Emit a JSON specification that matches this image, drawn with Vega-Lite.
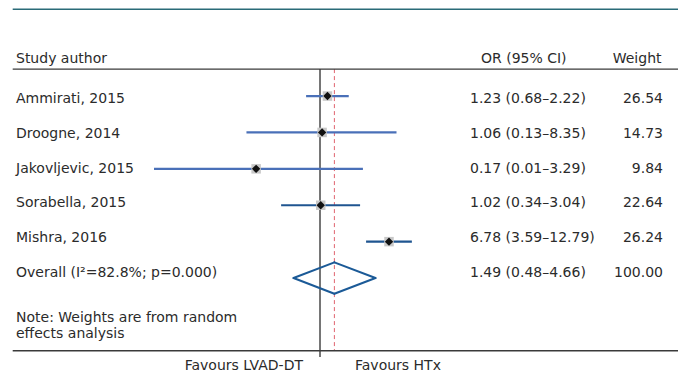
{
  "$schema": "https://vega.github.io/schema/vega-lite/v6.json",
  "width": 684,
  "height": 373,
  "autosize": {"type": "fit", "contains": "padding"},
  "padding": 0,
  "background": "#ffffff",
  "config": {
    "view": {"stroke": null},
    "text": {"font": "DejaVu Sans", "fontSize": 14, "color": "#2b2b2b", "baseline": "alphabetic"}
  },
  "datasets": {
    "rows": [
      {"kind": "study", "row": 1, "study": "Ammirati, 2015", "or": 1.23, "lo": 0.68, "hi": 2.22, "ci": "1.23 (0.68–2.22)", "weight": "26.54"},
      {"kind": "study", "row": 2, "study": "Droogne, 2014", "or": 1.06, "lo": 0.13, "hi": 8.35, "ci": "1.06 (0.13–8.35)", "weight": "14.73"},
      {"kind": "study", "row": 3, "study": "Jakovljevic, 2015", "or": 0.17, "lo": 0.01, "hi": 3.29, "ci": "0.17 (0.01–3.29)", "weight": "9.84"},
      {"kind": "study", "row": 4, "study": "Sorabella, 2015", "or": 1.02, "lo": 0.34, "hi": 3.04, "ci": "1.02 (0.34–3.04)", "weight": "22.64"},
      {"kind": "study", "row": 5, "study": "Mishra, 2016", "or": 6.78, "lo": 3.59, "hi": 12.79, "ci": "6.78 (3.59–12.79)", "weight": "26.24"},
      {"kind": "overall", "row": 6, "study": "Overall (I²=82.8%; p=0.000)", "or": 1.49, "lo": 0.48, "hi": 4.66, "ci": "1.49 (0.48–4.66)", "weight": "100.00"}
    ],
    "one": [{}]
  },
  "layer": [
    {
      "layer": [
        {
          "data": {"name": "one"},
          "mark": {"type": "rule", "color": "#1a1a1a", "strokeWidth": 1.2},
          "encoding": {
            "x": {"datum": 1, "type": "quantitative", "scale": {"type": "log", "domain": [0.00013948, 24297], "nice": false}, "axis": null},
            "y": {"datum": 0.26, "type": "quantitative", "scale": {"domain": [-1.638, 8.581], "reverse": true, "nice": false, "zero": false}, "axis": null},
            "y2": {"datum": 8.17}
          }
        },
        {
          "data": {"name": "rows"},
          "transform": [{"filter": "datum.kind === 'overall'"}],
          "mark": {"type": "rule", "color": "#e0646f", "strokeWidth": 1, "strokeDash": [4, 3]},
          "encoding": {
            "x": {"field": "or", "type": "quantitative", "scale": {"type": "log", "domain": [0.00013948, 24297], "nice": false}, "axis": null},
            "y": {"datum": 0.26, "type": "quantitative", "scale": {"domain": [-1.638, 8.581], "reverse": true, "nice": false, "zero": false}, "axis": null},
            "y2": {"datum": 8.0}
          }
        },
        {
          "data": {"name": "rows"},
          "transform": [{"filter": "datum.kind === 'study'"}],
          "mark": {"type": "rule", "strokeWidth": 2.2},
          "encoding": {
            "x": {"field": "lo", "type": "quantitative", "scale": {"type": "log", "domain": [0.00013948, 24297], "nice": false}, "axis": null},
            "x2": {"field": "hi"},
            "y": {"field": "row", "type": "quantitative", "scale": {"domain": [-1.638, 8.581], "reverse": true, "nice": false, "zero": false}, "axis": null},
            "color": {"field": "study", "type": "nominal", "legend": null,
              "scale": {"domain": ["Ammirati, 2015", "Droogne, 2014", "Jakovljevic, 2015", "Sorabella, 2015", "Mishra, 2016"],
                        "range": ["#4a70b8", "#4a70b8", "#4a70b8", "#1f5590", "#1f5590"]}}
          }
        },
        {
          "data": {"name": "rows"},
          "transform": [{"filter": "datum.kind === 'study'"}],
          "mark": {"type": "point", "shape": "square", "filled": true, "color": "#c8c8c8", "opacity": 1, "size": 90},
          "encoding": {
            "x": {"field": "or", "type": "quantitative", "scale": {"type": "log", "domain": [0.00013948, 24297], "nice": false}, "axis": null},
            "y": {"field": "row", "type": "quantitative", "scale": {"domain": [-1.638, 8.581], "reverse": true, "nice": false, "zero": false}, "axis": null}
          }
        },
        {
          "data": {"name": "rows"},
          "transform": [{"filter": "datum.kind === 'study'"}],
          "mark": {"type": "point", "shape": "diamond", "filled": true, "color": "#111111", "opacity": 1, "size": 70},
          "encoding": {
            "x": {"field": "or", "type": "quantitative", "scale": {"type": "log", "domain": [0.00013948, 24297], "nice": false}, "axis": null},
            "y": {"field": "row", "type": "quantitative", "scale": {"domain": [-1.638, 8.581], "reverse": true, "nice": false, "zero": false}, "axis": null}
          }
        },
        {
          "data": {"name": "rows"},
          "transform": [{"filter": "datum.kind === 'overall'"}],
          "mark": {"type": "rule", "color": "#1b5a97", "strokeWidth": 2, "strokeCap": "round", "y2Offset": -15.7},
          "encoding": {
            "x": {"field": "lo", "type": "quantitative", "scale": {"type": "log", "domain": [0.00013948, 24297], "nice": false}, "axis": null},
            "x2": {"field": "or"},
            "y": {"field": "row", "type": "quantitative", "scale": {"domain": [-1.638, 8.581], "reverse": true, "nice": false, "zero": false}, "axis": null},
            "y2": {"field": "row"}
          }
        },
        {
          "data": {"name": "rows"},
          "transform": [{"filter": "datum.kind === 'overall'"}],
          "mark": {"type": "rule", "color": "#1b5a97", "strokeWidth": 2, "strokeCap": "round", "y2Offset": 15.7},
          "encoding": {
            "x": {"field": "lo", "type": "quantitative", "scale": {"type": "log", "domain": [0.00013948, 24297], "nice": false}, "axis": null},
            "x2": {"field": "or"},
            "y": {"field": "row", "type": "quantitative", "scale": {"domain": [-1.638, 8.581], "reverse": true, "nice": false, "zero": false}, "axis": null},
            "y2": {"field": "row"}
          }
        },
        {
          "data": {"name": "rows"},
          "transform": [{"filter": "datum.kind === 'overall'"}],
          "mark": {"type": "rule", "color": "#1b5a97", "strokeWidth": 2, "strokeCap": "round", "yOffset": -15.7},
          "encoding": {
            "x": {"field": "or", "type": "quantitative", "scale": {"type": "log", "domain": [0.00013948, 24297], "nice": false}, "axis": null},
            "x2": {"field": "hi"},
            "y": {"field": "row", "type": "quantitative", "scale": {"domain": [-1.638, 8.581], "reverse": true, "nice": false, "zero": false}, "axis": null},
            "y2": {"field": "row"}
          }
        },
        {
          "data": {"name": "rows"},
          "transform": [{"filter": "datum.kind === 'overall'"}],
          "mark": {"type": "rule", "color": "#1b5a97", "strokeWidth": 2, "strokeCap": "round", "yOffset": 15.7},
          "encoding": {
            "x": {"field": "or", "type": "quantitative", "scale": {"type": "log", "domain": [0.00013948, 24297], "nice": false}, "axis": null},
            "x2": {"field": "hi"},
            "y": {"field": "row", "type": "quantitative", "scale": {"domain": [-1.638, 8.581], "reverse": true, "nice": false, "zero": false}, "axis": null},
            "y2": {"field": "row"}
          }
        },
        {
          "data": {"name": "one"},
          "mark": {"type": "text", "align": "right", "dx": -17},
          "encoding": {
            "x": {"datum": 1, "type": "quantitative", "scale": {"type": "log", "domain": [0.00013948, 24297], "nice": false}, "axis": null},
            "y": {"datum": 8.526, "type": "quantitative", "scale": {"domain": [-1.638, 8.581], "reverse": true, "nice": false, "zero": false}, "axis": null},
            "text": {"value": "Favours LVAD-DT"}
          }
        },
        {
          "data": {"name": "one"},
          "mark": {"type": "text", "align": "left", "dx": 35},
          "encoding": {
            "x": {"datum": 1, "type": "quantitative", "scale": {"type": "log", "domain": [0.00013948, 24297], "nice": false}, "axis": null},
            "y": {"datum": 8.526, "type": "quantitative", "scale": {"domain": [-1.638, 8.581], "reverse": true, "nice": false, "zero": false}, "axis": null},
            "text": {"value": "Favours HTx"}
          }
        }
      ]
    },
    {
      "layer": [
        {
          "data": {"name": "one"},
          "mark": {"type": "rule", "color": "#2a6b78", "strokeWidth": 1.5},
          "encoding": {
            "x": {"datum": 0.01857, "type": "quantitative", "scale": {"domain": [0, 1], "nice": false, "zero": false}, "axis": null},
            "x2": {"datum": 0.99123},
            "y": {"datum": -1.6973, "type": "quantitative", "scale": {"domain": [-1.9641, 8.7389], "reverse": true, "nice": false, "zero": false}, "axis": null}
          }
        },
        {
          "data": {"name": "one"},
          "mark": {"type": "rule", "color": "#3a3a3a", "strokeWidth": 1.3},
          "encoding": {
            "x": {"datum": 0.01857, "type": "quantitative", "scale": {"domain": [0, 1], "nice": false, "zero": false}, "axis": null},
            "x2": {"datum": 0.99123},
            "y": {"datum": 0.0244, "type": "quantitative", "scale": {"domain": [-1.9641, 8.7389], "reverse": true, "nice": false, "zero": false}, "axis": null}
          }
        },
        {
          "data": {"name": "one"},
          "mark": {"type": "rule", "color": "#3a3a3a", "strokeWidth": 1.3},
          "encoding": {
            "x": {"datum": 0.01857, "type": "quantitative", "scale": {"domain": [0, 1], "nice": false, "zero": false}, "axis": null},
            "x2": {"datum": 0.99123},
            "y": {"datum": 8.1277, "type": "quantitative", "scale": {"domain": [-1.9641, 8.7389], "reverse": true, "nice": false, "zero": false}, "axis": null}
          }
        },
        {
          "data": {"name": "one"},
          "mark": {"type": "text", "align": "left"},
          "encoding": {
            "x": {"datum": 0.02339, "type": "quantitative", "scale": {"domain": [0, 1], "nice": false, "zero": false}, "axis": null},
            "y": {"datum": -0.165, "type": "quantitative", "scale": {"domain": [-1.9641, 8.7389], "reverse": true, "nice": false, "zero": false}, "axis": null},
            "text": {"value": "Study author"}
          }
        },
        {
          "data": {"name": "one"},
          "mark": {"type": "text", "align": "left"},
          "encoding": {
            "x": {"datum": 0.7032, "type": "quantitative", "scale": {"domain": [0, 1], "nice": false, "zero": false}, "axis": null},
            "y": {"datum": -0.165, "type": "quantitative", "scale": {"domain": [-1.9641, 8.7389], "reverse": true, "nice": false, "zero": false}, "axis": null},
            "text": {"value": "OR (95% CI)"}
          }
        },
        {
          "data": {"name": "one"},
          "mark": {"type": "text", "align": "right"},
          "encoding": {
            "x": {"datum": 0.9671, "type": "quantitative", "scale": {"domain": [0, 1], "nice": false, "zero": false}, "axis": null},
            "y": {"datum": -0.165, "type": "quantitative", "scale": {"domain": [-1.9641, 8.7389], "reverse": true, "nice": false, "zero": false}, "axis": null},
            "text": {"value": "Weight"}
          }
        },
        {
          "data": {"name": "rows"},
          "mark": {"type": "text", "align": "left"},
          "encoding": {
            "x": {"datum": 0.02339, "type": "quantitative", "scale": {"domain": [0, 1], "nice": false, "zero": false}, "axis": null},
            "y": {"field": "row", "type": "quantitative", "scale": {"domain": [-1.9641, 8.7389], "reverse": true, "nice": false, "zero": false}, "axis": null},
            "text": {"field": "study"}
          }
        },
        {
          "data": {"name": "rows"},
          "mark": {"type": "text", "align": "left"},
          "encoding": {
            "x": {"datum": 0.6871, "type": "quantitative", "scale": {"domain": [0, 1], "nice": false, "zero": false}, "axis": null},
            "y": {"field": "row", "type": "quantitative", "scale": {"domain": [-1.9641, 8.7389], "reverse": true, "nice": false, "zero": false}, "axis": null},
            "text": {"field": "ci"}
          }
        },
        {
          "data": {"name": "rows"},
          "mark": {"type": "text", "align": "right"},
          "encoding": {
            "x": {"datum": 0.9693, "type": "quantitative", "scale": {"domain": [0, 1], "nice": false, "zero": false}, "axis": null},
            "y": {"field": "row", "type": "quantitative", "scale": {"domain": [-1.9641, 8.7389], "reverse": true, "nice": false, "zero": false}, "axis": null},
            "text": {"field": "weight"}
          }
        },
        {
          "data": {"name": "one"},
          "mark": {"type": "text", "align": "left", "lineBreak": "\n", "lineHeight": 15.5},
          "encoding": {
            "x": {"datum": 0.02339, "type": "quantitative", "scale": {"domain": [0, 1], "nice": false, "zero": false}, "axis": null},
            "y": {"datum": 7.3125, "type": "quantitative", "scale": {"domain": [-1.9641, 8.7389], "reverse": true, "nice": false, "zero": false}, "axis": null},
            "text": {"value": "Note: Weights are from random\neffects analysis"}
          }
        }
      ]
    }
  ],
  "resolve": {"scale": {"x": "independent", "y": "independent"}}
}
